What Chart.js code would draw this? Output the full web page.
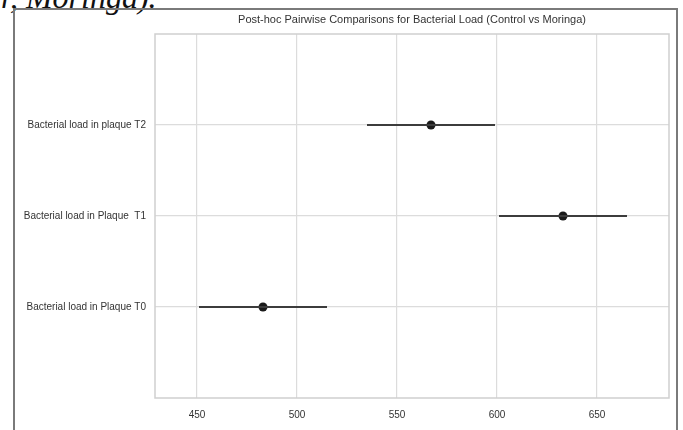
<!DOCTYPE html>
<html>
<head>
<meta charset="utf-8">
<script src="https://cdn.jsdelivr.net/npm/chart.js@4/dist/chart.umd.min.js"></script>
<style>
  html, body { margin: 0; padding: 0; background: #fff; width: 683px; height: 430px; overflow: hidden; position: relative; }
  #caption { position: absolute; left: 1px; top: -21px; font: italic 32px 'Liberation Serif', serif; color: #111; white-space: nowrap; }
  #frame { position: absolute; left: 13px; top: 8px; width: 661px; height: 421px; border: 2px solid #7a7a7a; box-sizing: content-box; }
  #c { position: absolute; left: 0; top: 0; }
</style>
</head>
<body>
<div id="caption">r, Moringa).</div>
<div id="frame"></div>
<canvas id="c" width="683" height="430"></canvas>
<script>
const categories = ['Bacterial load in plaque T2', 'Bacterial load in Plaque  T1', 'Bacterial load in Plaque T0'];
const means = [567, 633, 483];
const ciLow = [535, 601, 451];
const ciHigh = [599, 665, 515];
const xTicks = [450, 500, 550, 600, 650];
const titleText = 'Post-hoc Pairwise Comparisons for Bacterial Load (Control vs Moringa)';

const fontFamily = "'Liberation Sans', Arial, sans-serif";
const textColor = '#333333';
const gridColor = '#dcdcdc';

const datasets = [];
categories.forEach((c, i) => {
  datasets.push({
    type: 'scatter',
    label: c + ' CI',
    data: [{x: ciLow[i], y: i}, {x: ciHigh[i], y: i}],
    showLine: true,
    borderColor: '#3c3c3c',
    borderWidth: 2.2,
    pointRadius: 0,
    pointHoverRadius: 0
  });
});
datasets.push({
  type: 'scatter',
  label: 'mean',
  data: means.map((m, i) => ({x: m, y: i})),
  pointRadius: 4.5,
  pointBackgroundColor: '#1a1a1a',
  pointBorderColor: '#1a1a1a',
  borderWidth: 0
});

const boxPlugin = {
  id: 'box',
  afterDraw(chart) {
    const a = chart.chartArea, ctx = chart.ctx;
    ctx.save();
    ctx.strokeStyle = '#cfcfcf';
    ctx.lineWidth = 1.5;
    ctx.strokeRect(a.left, a.top, a.right - a.left, a.bottom - a.top);
    ctx.fillStyle = textColor;
    ctx.font = '11px ' + fontFamily;
    ctx.textAlign = 'center';
    ctx.textBaseline = 'middle';
    ctx.fillText(titleText, (a.left + a.right) / 2, 20);
    ctx.restore();
  }
};

new Chart(document.getElementById('c'), {
  type: 'scatter',
  data: { datasets },
  plugins: [boxPlugin],
  options: {
    responsive: false,
    devicePixelRatio: 1,
    animation: false,
    layout: { padding: { left: 0, right: 14, top: 34, bottom: 0 } },
    plugins: {
      legend: { display: false },
      tooltip: { enabled: false },
      title: { display: false }
    },
    scales: {
      x: {
        type: 'linear',
        min: 429,
        max: 686,
        afterBuildTicks(scale) { scale.ticks = xTicks.map(v => ({ value: v })); },
        afterFit(scale) { scale.height = 32; },
        grid: { color: gridColor, lineWidth: 1.2, drawTicks: false },
        border: { display: false },
        ticks: { color: textColor, font: { family: fontFamily, size: 10 }, padding: 11, maxRotation: 0 }
      },
      y: {
        type: 'linear',
        min: -1,
        max: 3,
        reverse: true,
        afterBuildTicks(scale) { scale.ticks = categories.map((c, i) => ({ value: i })); },
        afterFit(scale) { scale.width = 155; },
        grid: { color: gridColor, lineWidth: 1.2, drawTicks: false },
        border: { display: false },
        ticks: {
          color: textColor,
          font: { family: fontFamily, size: 10 },
          padding: 9,
          callback: (v) => categories[v]
        }
      }
    }
  }
});
</script>
</body>
</html>
